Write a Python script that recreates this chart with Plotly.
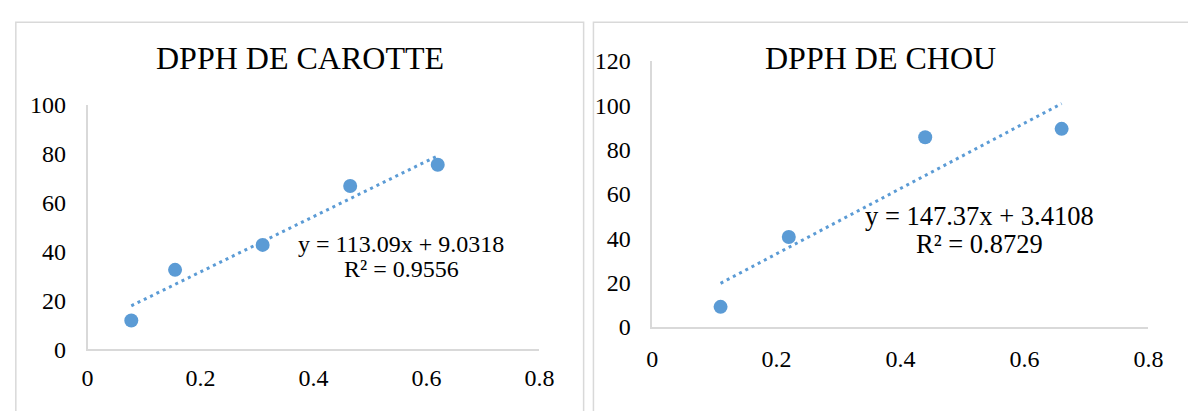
import plotly.graph_objects as go

# ---- data ----
carotte_x = [0.0775, 0.155, 0.31, 0.465, 0.62]
carotte_y = [11.8, 32.5, 42.7, 66.8, 75.5]
carotte_slope, carotte_intercept = 113.09, 9.0318
carotte_eq = "y = 113.09x + 9.0318"
carotte_r2 = "R² = 0.9556"
carotte_title = "DPPH DE CAROTTE"

chou_x = [0.11, 0.22, 0.44, 0.66]
chou_y = [9.0, 40.5, 85.5, 89.3]
chou_slope, chou_intercept = 147.37, 3.4108
chou_eq = "y = 147.37x + 3.4108"
chou_r2 = "R² = 0.8729"
chou_title = "DPPH DE CHOU"

x_ticks = [0, 0.2, 0.4, 0.6, 0.8]
carotte_y_ticks = [0, 20, 40, 60, 80, 100]
chou_y_ticks = [0, 20, 40, 60, 80, 100, 120]

W, H = 1188, 411
BLUE = "#5B9BD5"
GRAY = "#D9D9D9"
FONT = "Liberation Serif"


def px(x):
    return x / W


def py(y):
    return 1 - y / H


fig = go.Figure()


def trend(xs, m, b):
    tx = [min(xs), max(xs)]
    return tx, [m * v + b for v in tx]


# left chart
fig.add_trace(go.Scatter(x=carotte_x, y=carotte_y, mode="markers",
                         marker=dict(size=14, color=BLUE), xaxis="x", yaxis="y",
                         showlegend=False, hoverinfo="skip"))
tx, ty = trend(carotte_x, carotte_slope, carotte_intercept)
fig.add_trace(go.Scatter(x=tx, y=ty, mode="lines",
                         line=dict(color=BLUE, width=3, dash="3px,4px"),
                         xaxis="x", yaxis="y", showlegend=False, hoverinfo="skip"))

# right chart
fig.add_trace(go.Scatter(x=chou_x, y=chou_y, mode="markers",
                         marker=dict(size=14, color=BLUE), xaxis="x2", yaxis="y2",
                         showlegend=False, hoverinfo="skip"))
tx, ty = trend(chou_x, chou_slope, chou_intercept)
fig.add_trace(go.Scatter(x=tx, y=ty, mode="lines",
                         line=dict(color=BLUE, width=3, dash="3px,4px"),
                         xaxis="x2", yaxis="y2", showlegend=False, hoverinfo="skip"))

axis_common = dict(showgrid=False, zeroline=False, showline=True, linecolor=GRAY,
                   linewidth=1.5, ticks="", tickfont=dict(family=FONT, size=24, color="black"))

fig.update_layout(
    width=W, height=H, margin=dict(l=0, r=0, t=0, b=0),
    font=dict(family=FONT, color="black"),
    paper_bgcolor="white", plot_bgcolor="white",
    xaxis=dict(domain=[px(83), px(543)], range=[0, 0.8], tickvals=x_ticks,
               anchor="y", ticklabelstandoff=6, **axis_common),
    yaxis=dict(domain=[py(359), py(98)], range=[0, 100], tickvals=carotte_y_ticks,
               anchor="x", ticklabelstandoff=15, **axis_common),
    xaxis2=dict(domain=[px(658), px(1163)], range=[0, 0.8], tickvals=x_ticks,
                anchor="y2", ticklabelstandoff=10, **axis_common),
    yaxis2=dict(domain=[py(335), py(51)], range=[0, 120], tickvals=chou_y_ticks,
                anchor="x2", ticklabelstandoff=15, **axis_common),
)

annotations = [
    dict(text=carotte_title, x=px(299), y=py(48), size=32),
    dict(text=chou_title, x=px(890), y=py(48), size=32),
    dict(text=carotte_eq, x=px(402), y=py(247), size=24),
    dict(text=carotte_r2, x=px(403), y=py(273), size=24),
    dict(text=chou_eq, x=px(991), y=py(217), size=26.5),
    dict(text=chou_r2, x=px(991), y=py(247), size=26.5),
]
for a in annotations:
    fig.add_annotation(text=a["text"], x=a["x"], y=a["y"], xref="paper", yref="paper",
                       xanchor="center", yanchor="middle", showarrow=False,
                       font=dict(family=FONT, size=a["size"], color="black"))

# panel borders
fig.add_shape(type="rect", xref="paper", yref="paper",
              x0=px(10), x1=px(588), y0=py(440), y1=py(10),
              line=dict(color=GRAY, width=1.5), layer="below")
fig.add_shape(type="rect", xref="paper", yref="paper",
              x0=px(598), x1=px(1220), y0=py(440), y1=py(10),
              line=dict(color=GRAY, width=1.5), layer="below")

fig.write_html("out.html")
